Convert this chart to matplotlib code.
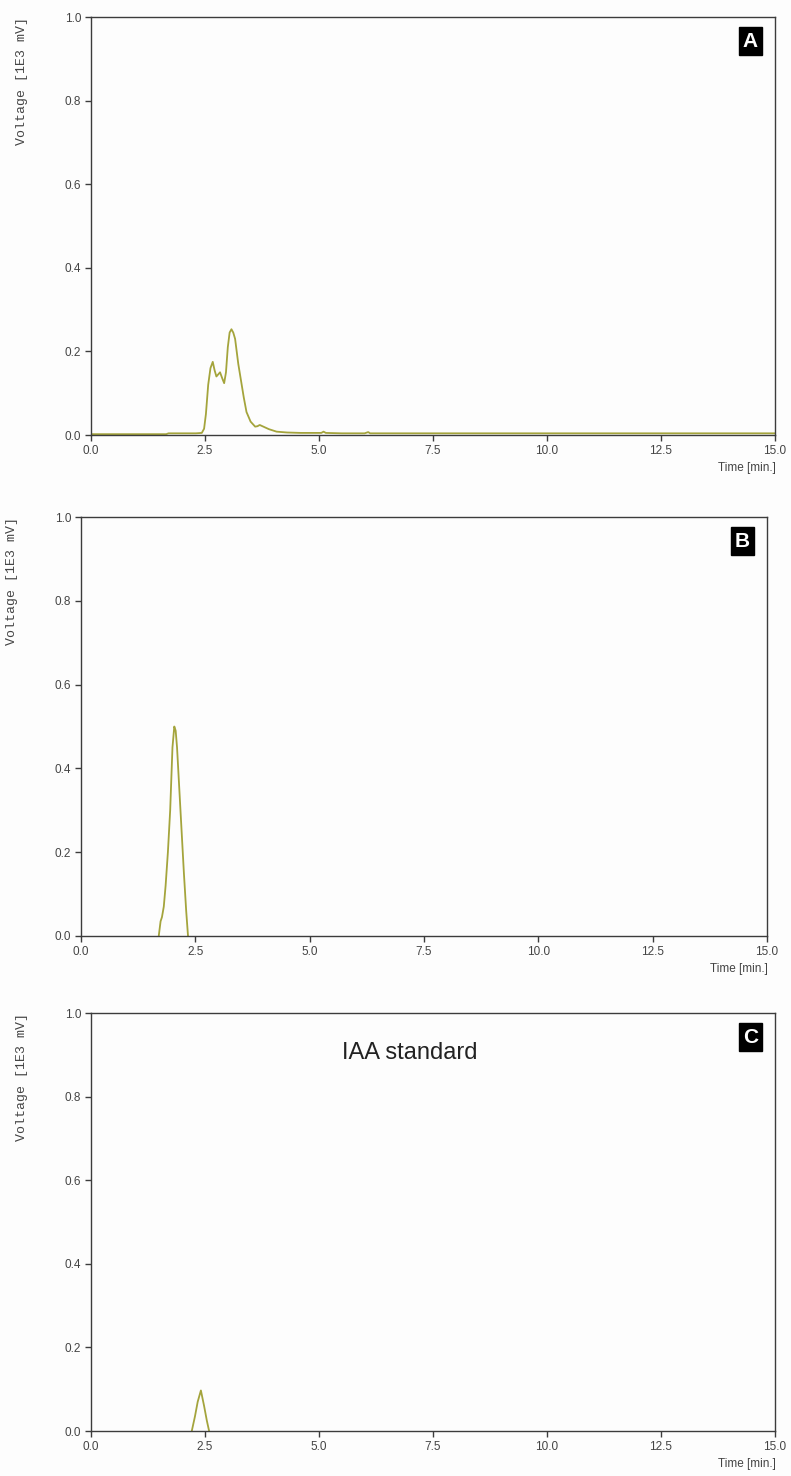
import matplotlib
matplotlib.use("Agg")
import matplotlib.pyplot as plt

# Chromatogram A: sample extract (time in min, voltage in 1E3 mV)
time_a = [0.0, 1.0, 1.65, 1.7, 2.3, 2.43, 2.48, 2.52, 2.57, 2.62, 2.67, 2.71, 2.75,
          2.79, 2.83, 2.88, 2.92, 2.96, 3.0, 3.04, 3.08, 3.12, 3.16, 3.23, 3.29,
          3.35, 3.41, 3.5, 3.6, 3.65, 3.7, 3.78, 3.9, 4.07, 4.3, 4.6, 4.9, 5.05,
          5.1, 5.15, 5.5, 6.0, 6.08, 6.12, 6.2, 8.0, 10.0, 12.5, 15.0]
volt_a = [0.002, 0.002, 0.002, 0.004, 0.004, 0.005, 0.015, 0.05, 0.12, 0.16, 0.175,
          0.155, 0.14, 0.145, 0.15, 0.135, 0.124, 0.15, 0.21, 0.245, 0.253, 0.245,
          0.23, 0.17, 0.13, 0.09, 0.055, 0.032, 0.02, 0.021, 0.024, 0.02, 0.014,
          0.008, 0.006, 0.005, 0.005, 0.005, 0.008, 0.005, 0.004, 0.004, 0.007,
          0.004, 0.004, 0.004, 0.004, 0.004, 0.004]

# Chromatogram B: sample extract
time_b = [1.7, 1.74, 1.77, 1.81, 1.85, 1.9, 1.95, 2.0, 2.04, 2.07, 2.1, 2.15,
          2.2, 2.25, 2.3, 2.34]
volt_b = [0.0, 0.035, 0.045, 0.07, 0.12, 0.2, 0.3, 0.45, 0.5, 0.49, 0.45, 0.35,
          0.25, 0.15, 0.06, 0.0]

# Chromatogram C: IAA standard
time_c = [2.21, 2.28, 2.34, 2.41, 2.48, 2.54, 2.59]
volt_c = [0.0, 0.035, 0.07, 0.097, 0.06, 0.025, 0.0]

x_ticks = [0.0, 2.5, 5.0, 7.5, 10.0, 12.5, 15.0]
y_ticks = [0.0, 0.2, 0.4, 0.6, 0.8, 1.0]

panels = [
    # (time, volt, letter, axes box in pixels [left, top, right, bottom], ylabel x)
    (time_a, volt_a, "A", [91, 17, 775, 435], 22),
    (time_b, volt_b, "B", [81, 517, 767, 936], 12),
    (time_c, volt_c, "C", [91, 1013, 775, 1431], 22),
]

W, H = 791, 1476
fig = plt.figure(figsize=(W / 100, H / 100), dpi=100, facecolor="#fdfdfd")

line_color = "#a4a43c"
spine_color = "#3c3c3c"
text_color = "#444444"

for t, v, letter, (x0, y0, x1, y1), ylab_x in panels:
    ax = fig.add_axes([x0 / W, 1 - y1 / H, (x1 - x0) / W, (y1 - y0) / H])
    ax.set_facecolor("#fdfdfd")
    ax.plot(t, v, color=line_color, lw=1.3, solid_joinstyle="round")
    ax.set_xlim(0, 15)
    ax.set_ylim(0, 1.0)
    ax.set_xticks(x_ticks)
    ax.set_yticks(y_ticks)
    ax.set_xticklabels([f"{x:.1f}" for x in x_ticks])
    ax.set_yticklabels([f"{y:.1f}" for y in y_ticks])
    for s in ax.spines.values():
        s.set_color(spine_color)
        s.set_linewidth(1.0)
    ax.tick_params(direction="out", length=4, width=1.0, color=spine_color,
                   labelsize=8.5, labelcolor=text_color, pad=3)
    for lab in ax.get_xticklabels() + ax.get_yticklabels():
        lab.set_fontfamily("Liberation Sans")

    # axis titles
    fig.text(ylab_x / W, 1 - y0 / H, "Voltage [1E3 mV]", rotation=90,
             ha="center", va="top", fontsize=9.5, family="Liberation Mono",
             color=text_color)
    ax.annotate("Time [min.]", xy=(1, 0), xycoords="axes fraction",
                xytext=(1, -33), textcoords="offset pixels",
                ha="right", va="center", fontsize=8.5, family="Liberation Sans",
                color=text_color)

    # panel letter in black box
    ax.text(0.975, 0.965, letter, transform=ax.transAxes, ha="right", va="top",
            fontsize=15, fontweight="bold", color="white", family="Liberation Sans",
            bbox=dict(boxstyle="square,pad=0.2", facecolor="black",
                      edgecolor="black"))

    if letter == "C":
        ax.text(0.466, 0.905, "IAA standard", transform=ax.transAxes, ha="center",
                va="center", fontsize=17, family="Liberation Sans", color="#222222")

fig.savefig("out.png", dpi=100, facecolor=fig.get_facecolor())
